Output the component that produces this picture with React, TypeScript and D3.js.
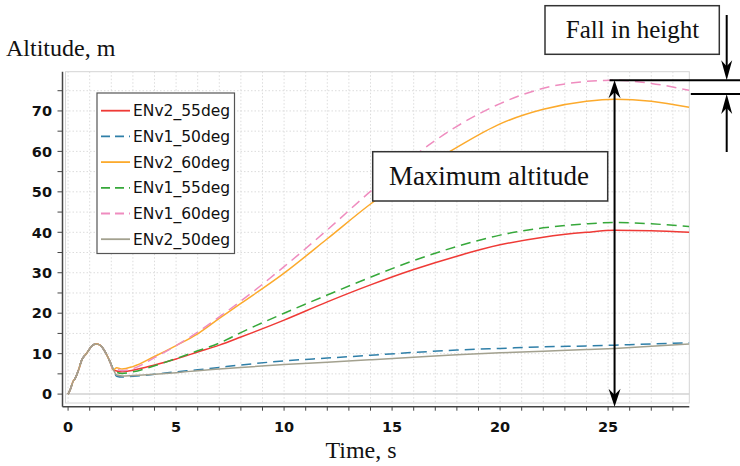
import * as d3 from 'd3'

// launch phase, shared by every run (t in s, altitude in m)
const launchT = [0, 0.12, 0.22, 0.32, 0.48, 0.63, 0.86, 1.1, 1.3, 1.48, 1.71, 1.94, 2.1]
const launchV = [0, 1.4, 3.0, 3.8, 5.9, 8.4, 10.1, 11.9, 12.4, 12.1, 10.5, 8.0, 6.0]

// glide phase sample times
const tailT = [2.25, 2.5, 3, 4, 5, 6, 7, 8, 10, 12, 14, 16, 18, 20, 22, 24, 25.3, 27, 28.75]

const env2_55 = [5.7, 5.5, 5.9, 7.2, 8.7, 10.4, 12.1, 14.1, 18.3, 22.8, 27.0, 30.8, 34.1, 36.9, 38.8, 40.0, 40.5, 40.4, 40.0]
const env1_50 = [4.4, 4.2, 4.4, 4.9, 5.5, 6.0, 6.6, 7.2, 8.2, 8.9, 9.6, 10.3, 10.9, 11.3, 11.7, 11.9, 12.1, 12.4, 12.7]
const env2_60 = [6.5, 6.2, 6.8, 9.3, 12.0, 14.9, 18.7, 22.4, 29.9, 38.4, 47.0, 54.5, 61.0, 66.8, 70.4, 72.4, 72.9, 72.4, 70.9]
const env1_55 = [5.4, 5.1, 5.5, 7.0, 8.8, 10.7, 12.6, 15.2, 20.0, 24.5, 28.9, 33.0, 36.5, 39.3, 41.1, 42.1, 42.4, 42.1, 41.4]
const env1_60 = [6.1, 5.8, 6.3, 9.0, 12.0, 15.3, 19.1, 23.0, 31.5, 40.6, 50.1, 58.8, 66.2, 71.8, 75.6, 77.3, 77.6, 76.8, 75.1]
const env2_50 = [4.7, 4.5, 4.6, 4.9, 5.3, 5.8, 6.2, 6.6, 7.3, 7.9, 8.5, 9.1, 9.7, 10.2, 10.6, 11.0, 11.3, 11.8, 12.4]

const seriesNames = ['ENv2_55deg', 'ENv1_50deg', 'ENv2_60deg', 'ENv1_55deg', 'ENv1_60deg', 'ENv2_50deg']
const seriesValues = [env2_55, env1_50, env2_60, env1_55, env1_60, env2_50]
const seriesColors = ['#ef3a36', '#2f7fa8', '#fcaa2c', '#36a83a', '#ef8cbf', '#a3a18f']
const seriesDashed = [false, true, false, true, true, false]

const xTickLabels = [0, 5, 10, 15, 20, 25]
const yTickLabels = [0, 10, 20, 30, 40, 50, 60, 70]

// annotation anchors (data units)
const peakT = 25.3
const peakV = 77.6
const endV = 74.2

const W = 740
const H = 466

function arrowHead(x: number, y: number, dir: 'up' | 'down', len = 18, half = 6) {
  const s = dir === 'up' ? 1 : -1
  return `M${x},${y} L${x - half},${y + s * len} L${x},${y + s * (len - 6)} L${x + half},${y + s * len} Z`
}

export default function App() {
  const x = d3.scaleLinear().domain([-0.12, 28.76]).range([65.5, 689.3])
  const y = d3.scaleLinear().domain([-2.2, 79.7]).range([403, 71.7])
  const axisX = 62.5
  const axisY = 406.7

  const line = d3.line<[number, number]>()
    .x(d => x(d[0]))
    .y(d => y(d[1]))
    .curve(d3.curveMonotoneX)

  const pts = (vals: number[]) => [
    ...launchT.map((t, i) => [t, launchV[i]] as [number, number]),
    ...tailT.map((t, i) => [t, vals[i]] as [number, number]),
  ]

  const xMinor = d3.range(0, 29, 1)
  const yMinor = d3.range(0, 76, 5)
  const [x0, x1] = x.range()
  const [y0, y1] = y.range()

  const tickFont = { fontFamily: 'DejaVu Sans', fontWeight: 'bold' as const, fontSize: 14.5, fill: '#111' }
  const serif = { fontFamily: 'Liberation Serif', fill: '#111' }

  const peakX = x(peakT)
  const fallX = 726.7

  return (
    <svg width={W} height={H} style={{ position: 'absolute', left: 0, top: 0, background: '#fff' }}>
      {/* grid */}
      {xMinor.map(t => (
        <line key={'gx' + t} x1={x(t)} x2={x(t)} y1={y1} y2={y0} stroke="#dcdcdc" strokeDasharray="1.5,2" />
      ))}
      {yMinor.map(v => (
        <line key={'gy' + v} x1={x0} x2={x1} y1={y(v)} y2={y(v)}
          stroke={v === 0 ? '#d2d2d2' : '#dcdcdc'} strokeWidth={v === 0 ? 1.5 : 1}
          strokeDasharray={v === 0 ? undefined : '1.5,2'} />
      ))}
      <rect x={x0} y={y1} width={x1 - x0} height={y0 - y1} fill="none" stroke="#d4d4d4" />

      {/* series */}
      {seriesValues.map((vals, i) => (
        <path key={seriesNames[i]} d={line(pts(vals)) ?? ''} fill="none" stroke={seriesColors[i]}
          strokeWidth={1.5} strokeDasharray={seriesDashed[i] ? '10,6' : undefined} />
      ))}

      {/* axes */}
      <line x1={axisX} x2={axisX} y1={y1} y2={axisY} stroke="#444" strokeWidth={1.5} />
      <line x1={axisX} x2={x1} y1={axisY} y2={axisY} stroke="#444" strokeWidth={1.5} />
      {yMinor.map(v => (
        <line key={'ty' + v} x1={axisX - 5} x2={axisX} y1={y(v)} y2={y(v)} stroke="#444" />
      ))}
      {xMinor.map(t => (
        <line key={'tx' + t} x1={x(t)} x2={x(t)} y1={axisY} y2={axisY + 4} stroke="#444" />
      ))}
      {yTickLabels.map(v => (
        <text key={'ly' + v} x={52} y={y(v)} dy="0.36em" textAnchor="end" {...tickFont}>{v}</text>
      ))}
      {xTickLabels.map(t => (
        <text key={'lx' + t} x={x(t)} y={432} textAnchor="middle" {...tickFont}>{t}</text>
      ))}
      <text x={6} y={55.5} fontSize={24} {...serif}>Altitude, m</text>
      <text x={361} y={458} fontSize={24} textAnchor="middle" {...serif}>Time, s</text>

      {/* legend */}
      <rect x={97} y={93} width={137.5} height={160.5} fill="#fff" stroke="#555" strokeWidth={1.2} />
      {seriesNames.map((name, i) => {
        const ly = 110.7 + i * 25.7
        return (
          <g key={'lg' + name}>
            <line x1={101} x2={130} y1={ly} y2={ly} stroke={seriesColors[i]} strokeWidth={1.8}
              strokeDasharray={seriesDashed[i] ? '9,5' : undefined} />
            <text x={133} y={ly} dy="0.36em" fontFamily="DejaVu Sans" fontSize={15.5} fill="#111">{name}</text>
          </g>
        )
      })}

      {/* maximum altitude annotation */}
      <rect x={372.7} y={151.7} width={235} height={49.3} fill="#fff" stroke="#333" strokeWidth={1.5} />
      <text x={489} y={185} fontSize={27} textAnchor="middle" {...serif}>Maximum altitude</text>
      <line x1={peakX} x2={peakX} y1={y(peakV) + 8} y2={axisY - 8} stroke="#000" strokeWidth={2} />
      <path d={arrowHead(peakX, y(peakV), 'up')} fill="#000" />
      <path d={arrowHead(peakX, axisY, 'down')} fill="#000" />

      {/* fall in height annotation */}
      <rect x={545} y={5.7} width={174.3} height={48.6} fill="#fff" stroke="#333" strokeWidth={1.5} />
      <text x={632.5} y={37.5} fontSize={25} textAnchor="middle" {...serif}>Fall in height</text>
      <line x1={peakX - 5} x2={W} y1={y(peakV)} y2={y(peakV)} stroke="#000" strokeWidth={2} />
      <line x1={x1 + 1.5} x2={W} y1={y(endV)} y2={y(endV)} stroke="#000" strokeWidth={2} />
      <line x1={fallX} x2={fallX} y1={15} y2={y(peakV) - 8} stroke="#000" strokeWidth={2} />
      <path d={arrowHead(fallX, y(peakV), 'down', 20, 5.5)} fill="#000" />
      <line x1={fallX} x2={fallX} y1={y(endV) + 8} y2={152} stroke="#000" strokeWidth={2} />
      <path d={arrowHead(fallX, y(endV), 'up', 20, 5.5)} fill="#000" />
    </svg>
  )
}
